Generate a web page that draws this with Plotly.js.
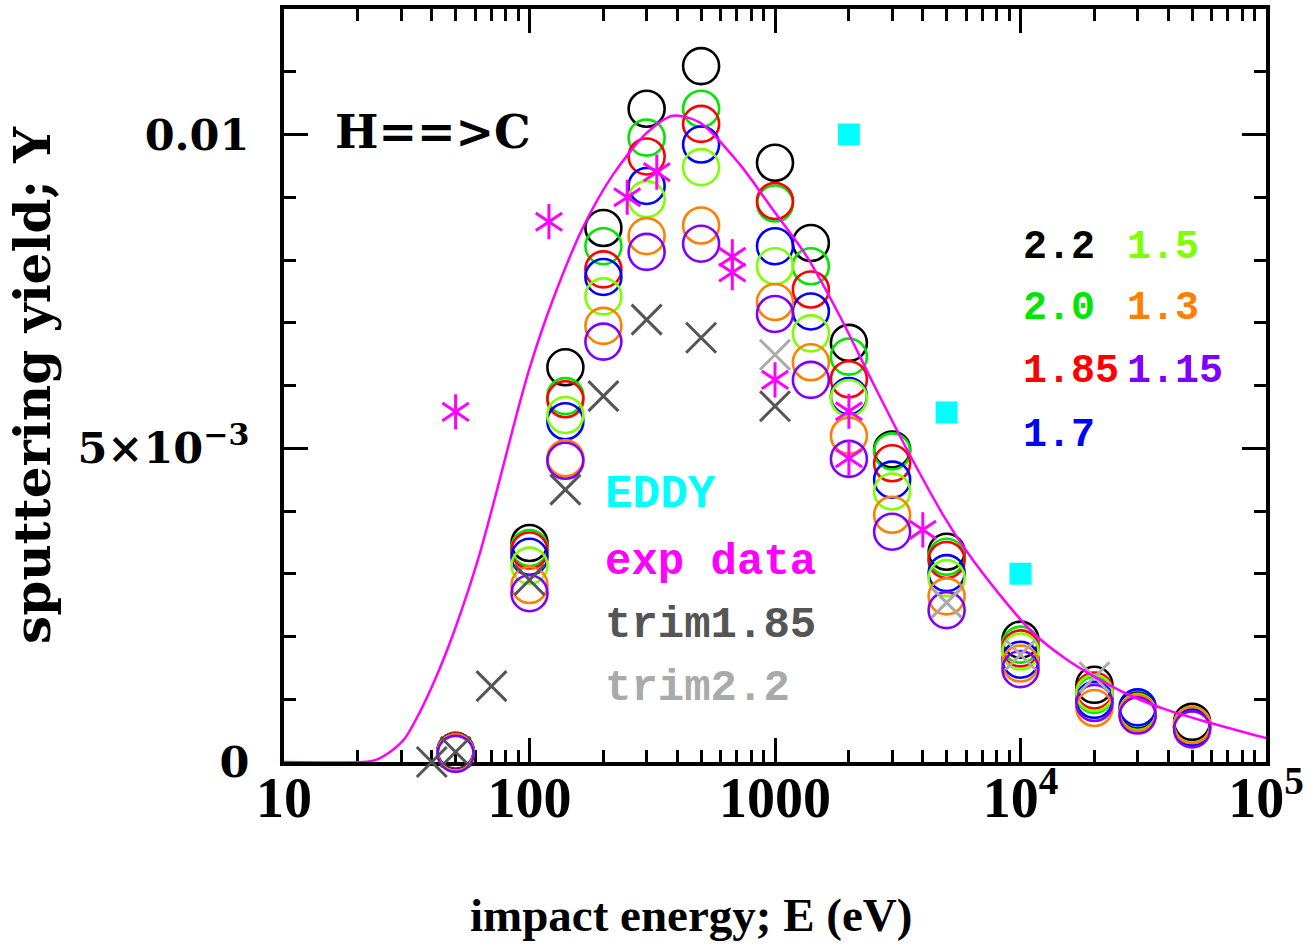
<!DOCTYPE html>
<html>
<head>
<meta charset="utf-8">
<script src="https://cdn.plot.ly/plotly-3.0.1.min.js"></script>
<style>html,body{margin:0;padding:0;background:#fff}</style>
</head>
<body>
<div id="chart" style="width:1316px;height:952px"></div>
<script>
// Impact energies (eV) of the simulated yields
const energies = [50, 100, 140, 200, 300, 500, 1000, 1400, 2000, 3000, 5000, 10000, 20000, 30000, 50000];

// Simulated sputtering yields, one list per surface binding energy (eV)
const yield_2_2  = [0.00018, 0.00349, 0.00629, 0.00851, 0.01041, 0.01109, 0.00955, 0.00827, 0.00668, 0.00498, 0.00335, 0.00195, 0.00123, 0.00082, 0.00064];
const yield_2_0  = [0.00017, 0.00341, 0.00583, 0.00822, 0.00995, 0.01041, 0.00890, 0.00790, 0.00646, 0.00495, 0.00327, 0.00187, 0.00107, 0.00080, 0.00059];
const yield_1_85 = [0.00017, 0.00337, 0.00578, 0.00785, 0.00965, 0.01017, 0.00894, 0.00753, 0.00610, 0.00476, 0.00322, 0.00181, 0.00114, 0.00076, 0.00056];
const yield_1_7  = [0.00016, 0.00327, 0.00543, 0.00773, 0.00918, 0.00984, 0.00822, 0.00718, 0.00583, 0.00450, 0.00301, 0.00163, 0.00099, 0.00087, 0.00056];
const yield_1_5  = [0.00015, 0.00313, 0.00553, 0.00742, 0.00897, 0.00948, 0.00790, 0.00683, 0.00580, 0.00431, 0.00293, 0.00176, 0.00110, 0.00079, 0.00059];
const yield_1_3  = [0.00015, 0.00282, 0.00484, 0.00695, 0.00838, 0.00855, 0.00733, 0.00637, 0.00520, 0.00394, 0.00264, 0.00157, 0.00086, 0.00078, 0.00059];
const yield_1_15 = [0.00013, 0.00269, 0.00480, 0.00670, 0.00813, 0.00826, 0.00714, 0.00609, 0.00483, 0.00367, 0.00242, 0.00148, 0.00094, 0.00074, 0.00052];

// Binding-energy labels and their colours
const bindingLabels = ['2.2', '2.0', '1.85', '1.7', '1.5', '1.3', '1.15'];
const bindingColors = ['#000000', '#00e600', '#ff0000', '#0000ff', '#80ff00', '#ff8000', '#8000ff'];

// TRIM results
const trim185E = [40, 50, 70, 100, 140, 200, 300, 500, 1000];
const trim185Y = [0.0, 0.00016, 0.00121, 0.00290, 0.00434, 0.00583, 0.00705, 0.00676, 0.00567];
const trim22E  = [1000, 5000, 10000, 20000];
const trim22Y  = [0.00649, 0.00254, 0.00171, 0.00135];

// EDDY results
const eddyE = [2000, 5000, 10000];
const eddyY = [0.0100, 0.00557, 0.00300];

// Experimental data
const expE = [50, 120, 250, 330, 670, 670, 1000, 2000, 2000, 4000];
const expY = [0.00558, 0.00861, 0.00900, 0.00940, 0.00805, 0.00780, 0.00609, 0.00559, 0.00484, 0.00370];

// Fitted yield curve
const fitE = [10, 21, 23.5, 27, 31.1, 35.8, 41.2, 47.4, 54.6, 62.8, 73.8, 87.4, 100.5, 124.6, 165.2, 218.9, 301, 384, 495, 720, 981, 1350, 1840, 2507, 3450, 4834, 6055, 8252, 11240, 15470, 21080, 28720, 39520, 53850, 100000];
const fitY = [0, 0, 0.00003, 0.00016, 0.00038, 0.00080, 0.00131, 0.00190, 0.00258, 0.00333, 0.00434, 0.00545, 0.00630, 0.00737, 0.00852, 0.00936, 0.01003, 0.01030, 0.01019, 0.00952, 0.00880, 0.00805, 0.00710, 0.00604, 0.00498, 0.00394, 0.00335, 0.00266, 0.00206, 0.00163, 0.00131, 0.00104, 0.00083, 0.00067, 0.00038];

// Axis tick labels
const xTickVals = [10, 100, 1000, 10000, 100000];
const xTickText = ['10', '100', '1000', '10<sup>4</sup>', '10<sup>5</sup>'];
const yTickVals = [0, 0.005, 0.01];
const yTickText = ['0', '5×10<sup>−3</sup>', '0.01'];

const bindingYields = [yield_2_2, yield_2_0, yield_1_85, yield_1_7, yield_1_5, yield_1_3, yield_1_15];

// minor tick positions on the log axis: 2..9 within each decade
const xMinor = [];
for (let d = 1; d < 5; d++) {
  for (let k = 2; k <= 9; k++) xMinor.push(k * Math.pow(10, d));
}

const traces = [];

bindingYields.forEach((ys, i) => {
  traces.push({
    x: energies, y: ys, type: 'scatter', mode: 'markers', cliponaxis: false,
    name: bindingLabels[i],
    marker: {symbol: 'circle-open', size: 36, color: bindingColors[i], line: {width: 2.6, color: bindingColors[i]}}
  });
});

traces.push({
  x: trim185E, y: trim185Y, type: 'scatter', mode: 'markers', cliponaxis: false, name: 'trim1.85',
  marker: {symbol: 'x-thin-open', size: 30, color: '#555555', line: {width: 3, color: '#555555'}}
});
traces.push({
  x: trim22E, y: trim22Y, type: 'scatter', mode: 'markers', cliponaxis: false, name: 'trim2.2',
  marker: {symbol: 'x-thin-open', size: 30, color: '#aaaaaa', line: {width: 3, color: '#aaaaaa'}}
});

traces.push({
  x: fitE, y: fitY, type: 'scatter', mode: 'lines', name: 'fit',
  line: {color: '#ff00ff', width: 2.5, shape: 'spline', smoothing: 0.8}
});

// six-armed asterisks: an upward and a downward "Y" laid over each other
['y-up-open', 'y-down-open'].forEach(sym => {
  traces.push({
    x: expE, y: expY, type: 'scatter', mode: 'markers', cliponaxis: false, name: 'exp data',
    marker: {symbol: sym, size: 22, color: '#ff00ff', line: {width: 3, color: '#ff00ff'}}
  });
});

traces.push({
  x: eddyE, y: eddyY, type: 'scatter', mode: 'markers', cliponaxis: false, name: 'EDDY',
  marker: {symbol: 'square', size: 22, color: '#00ffff', line: {width: 0}}
});

const monoFont = 'Liberation Mono, DejaVu Sans Mono, monospace';
const serifFont = 'DejaVu Serif, Liberation Serif, serif';

function label(text, x, y, color, size, family) {
  return {
    text: text, xref: 'paper', yref: 'paper', x: x, y: y,
    xanchor: 'left', yanchor: 'middle', showarrow: false,
    font: {family: family || monoFont, size: size, color: color, weight: 'bold'}
  };
}

const annotations = [
  label('H==>C', 0.050, 0.837, '#000000', 46, serifFont),
  label(bindingLabels[0], 0.750, 0.683, bindingColors[0], 40),
  label(bindingLabels[4], 0.856, 0.683, bindingColors[4], 40),
  label(bindingLabels[1], 0.750, 0.602, bindingColors[1], 40),
  label(bindingLabels[5], 0.856, 0.602, bindingColors[5], 40),
  label(bindingLabels[2], 0.750, 0.518, bindingColors[2], 40),
  label(bindingLabels[6], 0.856, 0.518, bindingColors[6], 40),
  label(bindingLabels[3], 0.750, 0.434, bindingColors[3], 40),
  label('EDDY', 0.325, 0.355, '#00ffff', 46),
  label('exp data', 0.325, 0.266, '#ff00ff', 44),
  label('trim1.85', 0.325, 0.182, '#555555', 44),
  label('trim2.2', 0.325, 0.098, '#aaaaaa', 44),
  {
    text: 'impact energy; E (eV)', xref: 'paper', yref: 'paper', x: 0.4145, y: -0.203,
    xanchor: 'center', yanchor: 'middle', showarrow: false,
    font: {family: 'Liberation Serif, serif', size: 47, color: '#000000', weight: 'bold'}
  }
];

const layout = {
  width: 1316, height: 952,
  margin: {l: 284, r: 50, t: 9, b: 190},
  paper_bgcolor: '#ffffff', plot_bgcolor: '#ffffff',
  showlegend: false,
  xaxis: {
    type: 'log', range: [1, 5], fixedrange: true,
    tickmode: 'array', tickvals: xTickVals, ticktext: xTickText,
    ticks: 'inside', ticklen: 24, tickwidth: 3, tickcolor: '#000000',
    minor: {tickmode: 'array', tickvals: xMinor, ticks: 'inside', ticklen: 12, tickwidth: 3, tickcolor: '#000000', showgrid: false},
    showline: true, linewidth: 4, linecolor: '#000000', mirror: 'allticks',
    showgrid: false, zeroline: false, layer: 'below traces',
    tickfont: {family: 'Liberation Serif, serif', size: 56, color: '#000000', weight: 'bold'},
    ticklabelstandoff: -16
  },
  yaxis: {
    range: [0, 0.012], fixedrange: true,
    tickmode: 'array', tickvals: yTickVals, ticktext: yTickText,
    ticks: 'inside', ticklen: 24, tickwidth: 3, tickcolor: '#000000',
    minor: {tick0: 0, dtick: 0.001, ticks: 'inside', ticklen: 12, tickwidth: 3, tickcolor: '#000000', showgrid: false},
    showline: true, linewidth: 4, linecolor: '#000000', mirror: 'allticks',
    showgrid: false, zeroline: false, layer: 'below traces',
    tickfont: {family: serifFont, size: 43, color: '#000000', weight: 'bold'},
    ticklabelstandoff: 22,
    title: {text: 'sputtering yield; Y', standoff: 12, font: {family: serifFont, size: 50, color: '#000000', weight: 'bold'}}
  },
  annotations: annotations
};

Plotly.newPlot('chart', traces, layout, {staticPlot: true, displayModeBar: false});
</script>
</body>
</html>
